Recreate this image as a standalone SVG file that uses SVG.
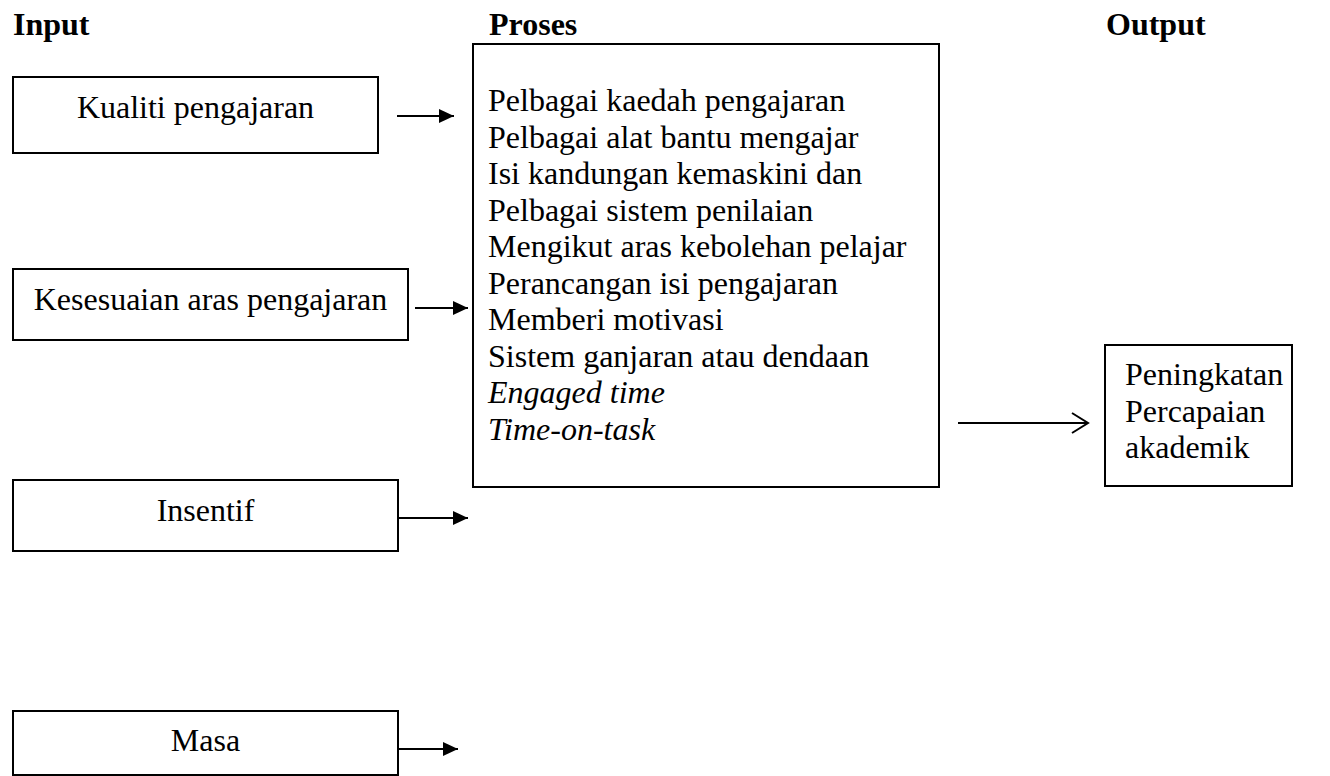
<svg xmlns="http://www.w3.org/2000/svg" width="1330" height="776" viewBox="0 0 1330 776">
<defs>
<style>
text{font-family:"Liberation Serif","Times New Roman",serif;fill:#000}
.h{font-size:32px;font-weight:bold}
.t{font-size:32px}
.c{text-anchor:middle}
.i{font-style:italic}
.box{fill:#fff;stroke:#000;stroke-width:2}
.ln{stroke:#000;stroke-width:2;fill:none}
</style>
<marker id="ah" markerWidth="15" markerHeight="14" refX="15" refY="7" orient="auto" markerUnits="userSpaceOnUse">
<path d="M0,0 L15,7 L0,14 Z" fill="#000"/>
</marker>
</defs>
<rect width="1330" height="776" fill="#fff"/>
<g id="headers">
<text class="h" x="13" y="35">Input</text>
<text class="h" x="489" y="35">Proses</text>
<text class="h" x="1106" y="35">Output</text>
</g>
<g id="kualiti">
<rect class="box" x="13" y="77" width="365" height="76"/>
<text class="t c" x="195.5" y="118">Kualiti pengajaran</text>
</g>
<g id="kesesuaian">
<rect class="box" x="13" y="269" width="395" height="71"/>
<text class="t c" x="210.5" y="310">Kesesuaian aras pengajaran</text>
</g>
<g id="insentif">
<rect class="box" x="13" y="480" width="385" height="71"/>
<text class="t c" x="205.5" y="521">Insentif</text>
</g>
<g id="masa">
<rect class="box" x="13" y="711" width="385" height="64"/>
<text class="t c" x="205.5" y="751">Masa</text>
</g>
<g id="proses">
<rect class="box" x="473" y="44" width="466" height="443"/>
<text class="t" x="488" y="111">Pelbagai kaedah pengajaran</text>
<text class="t" x="488" y="147.5">Pelbagai alat bantu mengajar</text>
<text class="t" x="488" y="184">Isi kandungan kemaskini dan</text>
<text class="t" x="488" y="220.5">Pelbagai sistem penilaian</text>
<text class="t" x="488" y="257">Mengikut aras kebolehan pelajar</text>
<text class="t" x="488" y="293.5">Perancangan isi pengajaran</text>
<text class="t" x="488" y="330">Memberi motivasi</text>
<text class="t" x="488" y="366.5">Sistem ganjaran atau dendaan</text>
<text class="t i" x="488" y="403">Engaged time</text>
<text class="t i" x="488" y="439.5">Time-on-task</text>
</g>
<g id="output">
<rect class="box" x="1105" y="345" width="187" height="141"/>
<text class="t" x="1125" y="385">Peningkatan</text>
<text class="t" x="1125" y="422">Percapaian</text>
<text class="t" x="1125" y="458">akademik</text>
</g>
<g id="connectors">
<line class="ln" x1="397" y1="116" x2="454" y2="116" marker-end="url(#ah)"/>
<line class="ln" x1="415" y1="308" x2="468" y2="308" marker-end="url(#ah)"/>
<line class="ln" x1="398" y1="518" x2="468" y2="518" marker-end="url(#ah)"/>
<line class="ln" x1="398" y1="749" x2="458" y2="749" marker-end="url(#ah)"/>
<line class="ln" x1="958" y1="423" x2="1088" y2="423"/>
<polyline class="ln" points="1072,413 1088,423 1072,433"/>
</g>
</svg>
